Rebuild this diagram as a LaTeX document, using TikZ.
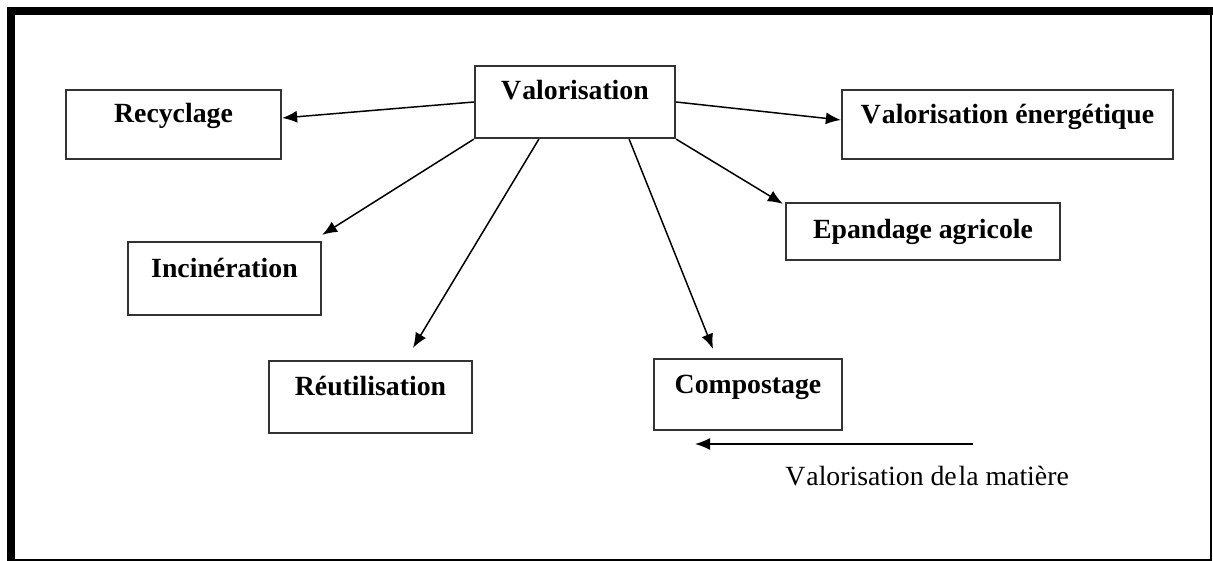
\documentclass[tikz,border=0pt]{standalone}
\usepackage{fontspec}
\setmainfont{Liberation Serif}
\usepackage{tikz}
\usetikzlibrary{arrows.meta}

\begin{document}
\begin{tikzpicture}[x=0.2mm,y=-0.2mm,
  boite/.style={draw=black!80, line width=0.45mm, inner sep=0, anchor=base, align=center,
    font=\fontsize{15.8}{18}\selectfont\bfseries},
  fleche/.style={-{Latex[length=3mm,width=2.4mm]}, line width=0.3mm}]
\useasboundingbox (0,0) rectangle (1213,561);
% cadre
\draw [line width=0.4mm] (11,11) rectangle (1211,560);
\draw [line width=1.6mm] (11,561) -- (11,11) -- (1213,11);

\node[boite, minimum width=4cm, text height=0.68cm, text depth=0.76cm] (valo) at (575,100) {V\kern0.6pt alorisation};
\node[boite, minimum width=4.3cm, text height=0.66cm, text depth=0.72cm] (recy) at (173.5,123) {Recyclage};
\node[boite, minimum width=6.62cm, text height=0.68cm, text depth=0.70cm] (ener) at (1007.5,124) {V\kern0.6pt alorisation énergétique};
\node[boite, minimum width=3.86cm, text height=0.70cm, text depth=0.76cm] (inci) at (224.5,277) {Incinération};
\node[boite, minimum width=5.48cm, text height=0.70cm, text depth=0.44cm] (epan) at (923,238) {Epandage agricole};
\node[boite, minimum width=4.06cm, text height=0.68cm, text depth=0.76cm] (reut) at (370.5,395) {Réutilisation};
\node[boite, minimum width=3.76cm, text height=0.68cm, text depth=0.74cm] (comp) at (748,393) {Compostage};

\draw [fleche] (valo.west) -- ([yshift=0.13cm]recy.east);
\draw [fleche] (valo.east) -- ([yshift=0.09cm]ener.west);
\draw [fleche] (valo.south west) -- ([yshift=0.12cm]inci.north east);
\draw [fleche] ([xshift=1.3cm]valo.south west) -- ([xshift=0.85cm,yshift=0.24cm]reut.north);
\draw [fleche] ([xshift=-0.94cm]valo.south east) -- ([xshift=-0.7cm,yshift=0.18cm]comp.north);
\draw [fleche] (valo.south east) -- ([xshift=-0.04cm,yshift=-0.04cm]epan.north west);

% valorisation de la matiere
\coordinate (debut) at (973,444);
\coordinate (fin) at (695,444);
\draw [fleche] (debut) -- (fin);
\node[anchor=base west, inner sep=0, font=\fontsize{15.8}{18}\selectfont] (mat) at (785,485) {V\kern0.6pt alorisation de\kern1pt la matière};
\end{tikzpicture}
\end{document}
